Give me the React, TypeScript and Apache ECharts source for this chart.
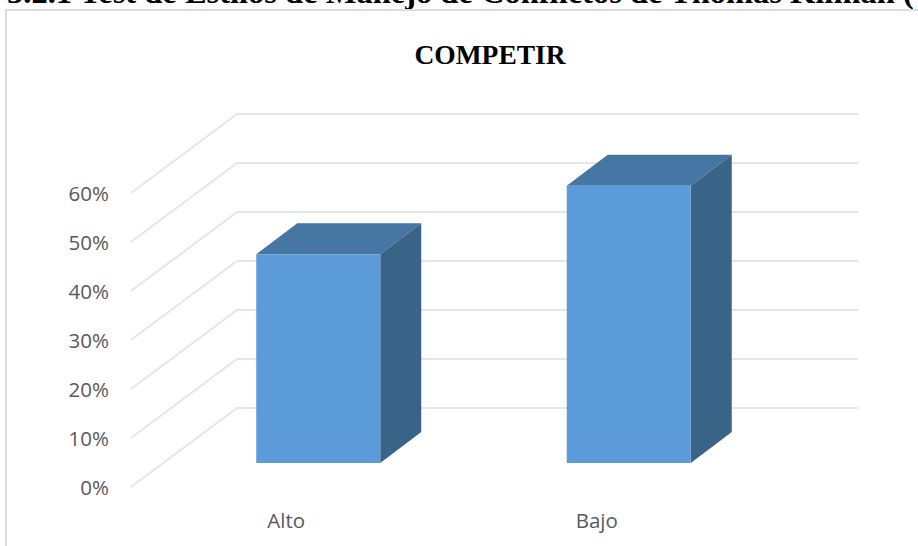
import React, { useEffect, useRef } from "react";
import * as echarts from "echarts";

const categories = ["Alto", "Bajo"];
const values = [42.6, 56.6];
const gridTicks = [0, 10, 20, 30, 40, 50, 60];
const heading = "3.2.1 Test de Estilos de Manejo de Conflictos de Thomas Kilman (TKI)";
const chartTitle = "COMPETIR";

const GAP = [32, -24];
const DEPTH = [41, -31];
const WALL = [106, -79];
const BAR_W = 124;

export default function App() {
  const ref = useRef<HTMLDivElement>(null);
  useEffect(() => {
    document.body.style.margin = "0";
    const chart = echarts.init(ref.current!, undefined, { renderer: "svg" });
    chart.setOption({
      animation: false,
      backgroundColor: "#ffffff",
      title: {
        text: chartTitle,
        left: 485,
        top: 35,
        textAlign: "center",
        textStyle: { fontFamily: "Liberation Serif", fontWeight: "bold", fontSize: 27.5, color: "#000000" },
      },
      grid: { left: 131, right: 166, top: 193, bottom: 59 },
      xAxis: {
        type: "category",
        data: categories,
        axisLine: { show: false },
        axisTick: { show: false },
        axisLabel: { color: "#595959", fontFamily: "Open Sans", fontSize: 20.5, margin: 22 },
      },
      yAxis: {
        type: "value",
        min: 0,
        max: 60,
        interval: 10,
        axisLine: { show: false },
        axisTick: { show: false },
        splitLine: { show: false },
        axisLabel: { color: "#595959", fontFamily: "Open Sans", fontSize: 20.5, margin: 22, formatter: "{value}%" },
      },
      series: [
        {
          type: "custom",
          z: 1,
          silent: true,
          data: gridTicks.map((t) => [0, t]),
          encode: { x: 0, y: 1 },
          renderItem: (params: any, api: any) => {
            const y = api.coord([0, api.value(1)])[1];
            const cs = params.coordSys;
            return {
              type: "polyline",
              shape: {
                points: [
                  [cs.x, y],
                  [cs.x + WALL[0], y + WALL[1]],
                  [cs.x + cs.width + WALL[0], y + WALL[1]],
                ],
              },
              style: { stroke: "#e6e6e6", lineWidth: 2, fill: "none" },
            };
          },
        },
        {
          type: "custom",
          z: 2,
          silent: true,
          data: values.map((v, i) => [i, v]),
          encode: { x: 0, y: 1 },
          renderItem: (_params: any, api: any) => {
            const [cx, yTop0] = api.coord([api.value(0), api.value(1)]);
            const [, yBase0] = api.coord([api.value(0), 0]);
            const l = cx + GAP[0] - BAR_W / 2;
            const r = l + BAR_W;
            const t = yTop0 + GAP[1];
            const b = yBase0 + GAP[1];
            const dx = DEPTH[0];
            const dy = DEPTH[1];
            return {
              type: "group",
              children: [
                {
                  type: "polygon",
                  shape: { points: [[l, t], [r, t], [r + dx, t + dy], [l + dx, t + dy]] },
                  style: { fill: "#4676a3" },
                },
                {
                  type: "polygon",
                  shape: { points: [[r, t], [r + dx, t + dy], [r + dx, b + dy], [r, b]] },
                  style: { fill: "#396387" },
                },
                {
                  type: "rect",
                  shape: { x: l, y: t, width: BAR_W, height: b - t },
                  style: { fill: "#5b9bd9" },
                },
              ],
            };
          },
        },
      ],
      graphic: [
        {
          type: "text",
          x: 7,
          y: -25,
          style: {
            text: heading,
            fontFamily: "Liberation Serif",
            fontWeight: "bold",
            fontSize: 32.5,
            fill: "#000000",
          },
        },
        {
          type: "polyline",
          shape: { points: [[6, 546], [6, 10], [918, 10]] },
          style: { stroke: "#dcdcdc", lineWidth: 2, fill: "none" },
        },
      ],
    });
    return () => chart.dispose();
  }, []);
  return <div ref={ref} style={{ position: "absolute", left: 0, top: 0, width: 918, height: 546 }} />;
}
